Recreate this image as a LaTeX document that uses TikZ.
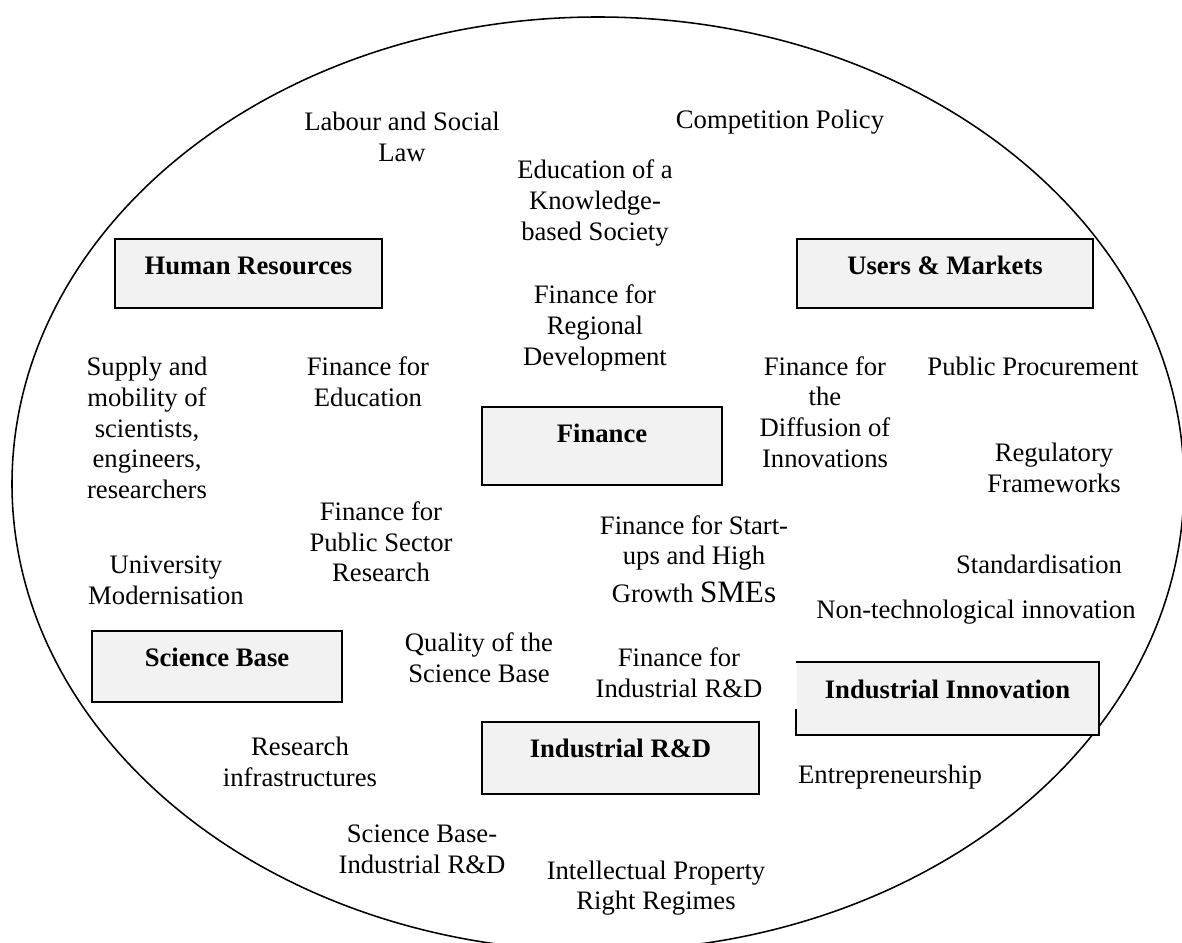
\documentclass[tikz,border=0pt]{standalone}
\usepackage{fontspec}
\setmainfont{Liberation Serif}
\usepackage{tikz}
\usetikzlibrary{shapes}
\definecolor{boxGrey}{RGB}{242,242,242}

\begin{document}
\begin{tikzpicture}[x=0.45pt,y=-0.45pt]
		\clip (0,0) rectangle (1182,943);
		\begin{scope}
			[
				styleSector/.style={
					draw, line width=0.9pt, fill=boxGrey,
					font=\fontsize{12}{13.8}\selectfont\bfseries,
					inner sep=0pt, text height=16pt
					},
				styleTopic/.style={align=center, inner sep=0pt, font=\fontsize{12}{13.8}\selectfont},
			]
			% policy area
			\draw[line width=0.7pt] (598,484) ellipse [x radius=586, y radius=467];

			% the six sectors
			\node(hr)[styleSector, minimum width=120.2pt, text depth=15pt] at (248.5,273.5) {Human Resources};
			\node(um)[styleSector, minimum width=133.2pt, text depth=15pt] at (945,273.5) {Users \& Markets};
			\node(fin)[styleSector, minimum width=108pt, text depth=19.1pt] at (602,446) {Finance};
			\node(sb)[styleSector, minimum width=112.5pt, text depth=16pt] at (217,666.5) {Science Base};
			\node(ird)[styleSector, minimum width=124.7pt, text depth=16.4pt] at (620.5,758) {Industrial R\&D};
			\node(ii)[styleSector, draw=none, minimum width=135.5pt, text depth=16pt] at (947.5,698.5) {Industrial Innovation};
			\draw[line width=0.9pt] (ii.south west) ++(0,-26) -- (ii.south west) -- (ii.south east)
				-- (ii.north east) -- (ii.north west);

			% policy topics
			\node(lab)[styleTopic] at (402,137) {Labour and Social\\Law};
			\node(comp)[styleTopic] at (780,122) {Competition Policy};
			\node(edu)[styleTopic] at (595,203) {Education of a\\Knowledge-\\based Society};
			\node(finreg)[styleTopic] at (595,328) {Finance for\\Regional\\Development};
			\node(finedu)[styleTopic] at (368,382) {Finance for\\Education};
			\node(supply)[styleTopic] at (147,428) {Supply and\\mobility of\\scientists,\\engineers,\\researchers};
			\node(univ)[styleTopic] at (166,580) {University\\Modernisation};
			\node(finpub)[styleTopic] at (381,542) {Finance for\\Public Sector\\Research};
			\node(finstart)[styleTopic] at (694,559) {Finance for Start-\\ups and High\\[3pt]Growth {\fontsize{14}{16}\selectfont SMEs}};
			\node(quality)[styleTopic] at (479,658) {Quality of the\\Science Base};
			\node(finind)[styleTopic] at (679,673) {Finance for\\Industrial R\&D};
			\node(research)[styleTopic] at (300,762) {Research\\infrastructures};
			\node(sbird)[styleTopic] at (422,849) {Science Base-\\Industrial R\&D};
			\node(ipr)[styleTopic] at (656,888) {Intellectual Property\\Right Regimes};
			\node(findiff)[styleTopic] at (825,412) {Finance for\\the\\Diffusion of\\Innovations};
			\node(proc)[styleTopic] at (1033,366) {Public Procurement};
			\node(reg)[styleTopic] at (1054,468) {Regulatory\\Frameworks};
			\node(std)[styleTopic] at (1039,564) {Standardisation};
			\node(nontech)[styleTopic] at (976,612) {Non-technological innovation};
			\node(entre)[styleTopic] at (890,777) {Entrepreneurship};
		\end{scope}
\end{tikzpicture}
\end{document}
